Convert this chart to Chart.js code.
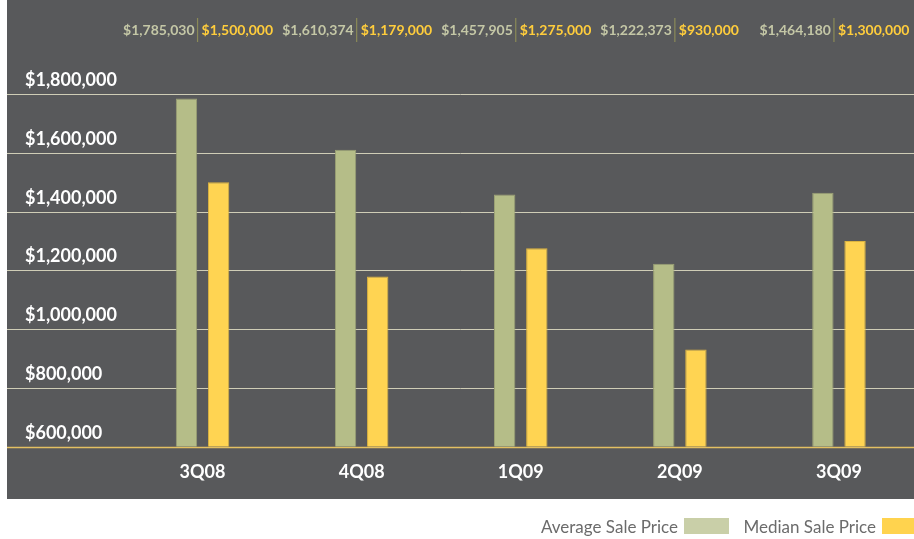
<!DOCTYPE html>
<html>
<head>
<meta charset="utf-8">
<script src="https://cdn.jsdelivr.net/npm/chart.js@4.4.0/dist/chart.umd.min.js"></script>
<style>
  html, body { margin: 0; padding: 0; background: #ffffff; overflow: hidden; }
  #wrap { width: 914px; height: 539px; overflow: hidden; }
  canvas { display: block; }
</style>
</head>
<body>
<div id="wrap"><canvas id="sales" width="920" height="539"></canvas></div>
<script>
// data
var quarters = ["3Q08", "4Q08", "1Q09", "2Q09", "3Q09"];
var averagePrice = [1785030, 1610374, 1457905, 1222373, 1464180];
var medianPrice = [1500000, 1179000, 1275000, 930000, 1300000];
var yTicks = [600000, 800000, 1000000, 1200000, 1400000, 1600000, 1800000];
var seriesNames = ["Average Sale Price", "Median Sale Price"];

var bgColor = "#58595b";
var avgColor = "#b5bd88";
var medColor = "#ffd452";

function money(v) {
    return "$" + v.toLocaleString("en-US");
}

// dark panel, gridlines and all the text around the bars
var decor = {
    id: "decor",
    beforeDraw: function (chart) {
        var ctx = chart.ctx;
        ctx.save();
        ctx.fillStyle = "#ffffff";
        ctx.fillRect(0, 0, chart.width, chart.height);
        ctx.fillStyle = bgColor;
        ctx.fillRect(7, 0, 907, 499);
        ctx.restore();
    },
    beforeDatasetsDraw: function (chart) {
        var ctx = chart.ctx;
        var y = chart.scales.y;
        ctx.save();
        yTicks.forEach(function (t) {
            var py = Math.round(y.getPixelForValue(t)) + 0.5;
            ctx.beginPath();
            ctx.moveTo(7, py);
            ctx.lineTo(914, py);
            if (t == yTicks[0]) {
                ctx.strokeStyle = "#e3c062";
                ctx.lineWidth = 1.5;
            } else {
                ctx.strokeStyle = "#cfcdb6";
                ctx.lineWidth = 1;
            }
            ctx.stroke();
            // label sits above its line
            ctx.fillStyle = "#ffffff";
            ctx.font = "bold 18px Lato";
            ctx.textAlign = "left";
            ctx.textBaseline = "middle";
            ctx.fillText(money(t), 25, py - 14);
        });
        ctx.restore();
    },
    afterDraw: function (chart) {
        var ctx = chart.ctx;
        var x = chart.scales.x;
        ctx.save();
        quarters.forEach(function (q, i) {
            var cx = x.getPixelForValue(i);
            ctx.fillStyle = "#ffffff";
            ctx.font = "bold 18px Lato";
            ctx.textAlign = "center";
            ctx.textBaseline = "middle";
            ctx.fillText(q, cx, 472);

            // value pair at the top
            var sep = cx - 5;
            ctx.strokeStyle = "#8a8a58";
            ctx.lineWidth = 1.2;
            ctx.beginPath();
            ctx.moveTo(sep, 18);
            ctx.lineTo(sep, 42);
            ctx.stroke();
            ctx.font = "bold 14px Lato";
            ctx.textAlign = "right";
            ctx.fillStyle = "#c4c7a6";
            ctx.fillText(money(averagePrice[i]), sep - 3, 30);
            ctx.textAlign = "left";
            ctx.fillStyle = "#ffcd3c";
            ctx.fillText(money(medianPrice[i]), sep + 4, 30);
        });

        // legend under the panel
        ctx.font = "17px Lato";
        ctx.textAlign = "right";
        ctx.textBaseline = "middle";
        ctx.fillStyle = "#6b6b6b";
        ctx.fillText(seriesNames[0], 678, 528);
        ctx.fillStyle = "#c9cfa8";
        ctx.fillRect(684, 518, 45, 16);
        ctx.fillStyle = "#6b6b6b";
        ctx.fillText(seriesNames[1], 876, 528);
        ctx.fillStyle = "#ffd34e";
        ctx.fillRect(882, 518, 40, 16);
        ctx.restore();
    }
};

new Chart(document.getElementById("sales"), {
    type: "bar",
    data: {
        labels: quarters,
        datasets: [{
            label: seriesNames[0],
            data: averagePrice,
            backgroundColor: avgColor,
            borderColor: "#9ba175",
            borderWidth: 1,
            categoryPercentage: 0.404,
            barPercentage: 0.665
        }, {
            label: seriesNames[1],
            data: medianPrice,
            backgroundColor: medColor,
            borderColor: "#dcb440",
            borderWidth: 1,
            categoryPercentage: 0.404,
            barPercentage: 0.665
        }]
    },
    options: {
        responsive: false,
        animation: false,
        layout: {
            padding: { left: 123, right: 1.5, top: 94, bottom: 92.5 }
        },
        plugins: {
            legend: { display: false },
            tooltip: { enabled: false }
        },
        scales: {
            x: { display: false },
            y: {
                display: false,
                min: yTicks[0],
                max: yTicks[yTicks.length - 1],
                ticks: { stepSize: 200000 }
            }
        }
    },
    plugins: [decor]
});
</script>
</body>
</html>
